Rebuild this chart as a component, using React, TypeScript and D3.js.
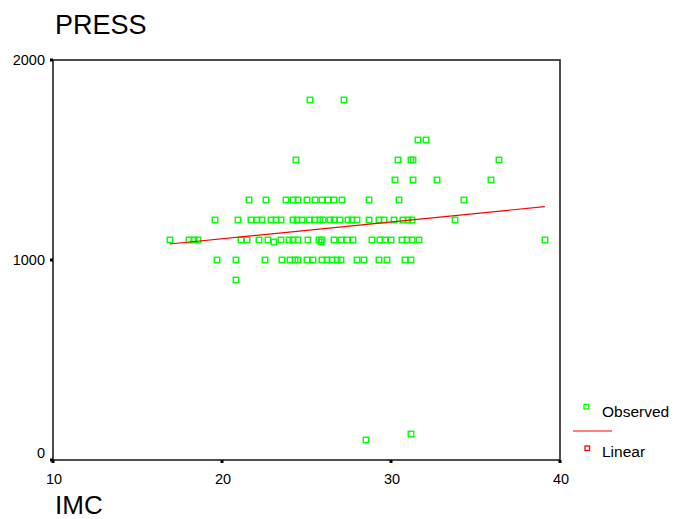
import React, { useRef, useEffect } from "react";
import * as d3 from "d3";

// IMC values of the observations, grouped by PRESS level
const press1800 = [25.2, 27.2];
const press1600 = [31.6, 32.1];
const press1500 = [24.4, 30.4, 31.2, 31.3, 36.4];
const press1400 = [30.25, 31.3, 32.7, 35.9];
const press1300 = [21.6, 22.6, 23.8, 24.2, 24.5, 25.0, 25.5, 25.9, 26.3, 26.6, 27.1, 28.7, 30.5, 34.3];
const press1200 = [
  19.6, 20.95, 21.7, 22.05, 22.35, 22.9, 23.2, 23.5, 24.2, 24.45, 24.75, 25.15, 25.5, 25.8,
  26.0, 26.4, 26.65, 27.0, 27.45, 27.7, 28.0, 28.7, 29.3, 29.6, 30.2, 30.7, 31.0, 31.25, 33.8,
];
const press1100 = [
  16.95, 18.05, 18.35, 18.6, 21.1, 21.5, 22.2, 22.75, 23.5, 23.95, 24.2, 24.5, 25.1, 25.75,
  25.9, 26.65, 27.05, 27.4, 27.75, 28.9, 29.35, 29.65, 30.0, 30.65, 30.95, 31.25, 31.65, 39.1,
];
const press1000 = [
  19.7, 20.85, 22.55, 23.55, 24.05, 24.3, 24.5, 25.05, 25.4, 25.9, 26.2, 26.5, 26.8, 27.05,
  28.0, 28.4, 29.3, 29.75, 30.85, 31.2,
];
const press900 = [20.8];
// [IMC, PRESS] points off the main levels
const scattered: [number, number][] = [
  [23.1, 1090],
  [25.85, 1090],
  [28.5, 100],
  [31.2, 130],
];

// fitted linear model [IMC, PRESS]
const linearFit: [number, number][] = [
  [16.9, 1080],
  [39.1, 1267],
];

const xTicks = [10, 20, 30, 40];
const yTicks = [0, 1000, 2000];

const FONT = "'Liberation Sans', Arial, sans-serif";

function App() {
  const svgRef = useRef<SVGSVGElement>(null);

  useEffect(() => {
    document.body.style.margin = "0";
    const svg = d3.select(svgRef.current);
    svg.selectAll("*").remove();

    const left = 53,
      right = 560,
      top = 60,
      bottom = 460;

    const x = d3.scaleLinear().domain([10, 40]).range([left, right]);
    const y = d3.scaleLinear().domain([0, 2000]).range([bottom, top]);

    const levels: [number, number[]][] = [
      [1800, press1800],
      [1600, press1600],
      [1500, press1500],
      [1400, press1400],
      [1300, press1300],
      [1200, press1200],
      [1100, press1100],
      [1000, press1000],
      [900, press900],
    ];
    const points: [number, number][] = [];
    levels.forEach(([p, arr]) => arr.forEach((v) => points.push([v, p])));
    scattered.forEach((d) => points.push(d));

    // titles
    svg
      .append("text")
      .attr("x", 55)
      .attr("y", 34)
      .attr("font-family", FONT)
      .attr("font-size", 27)
      .text("PRESS");

    svg
      .append("text")
      .attr("x", 55)
      .attr("y", 514)
      .attr("font-family", FONT)
      .attr("font-size", 26)
      .text("IMC");

    // observed points
    svg
      .append("g")
      .selectAll("rect")
      .data(points)
      .enter()
      .append("rect")
      .attr("x", (d) => Math.round(x(d[0])) - 2.75)
      .attr("y", (d) => Math.round(y(d[1])) - 2.75)
      .attr("width", 5.5)
      .attr("height", 5.5)
      .attr("fill", "none")
      .attr("stroke", "#00ff00")
      .attr("stroke-width", 1.4);

    // linear fit
    const line = d3
      .line<[number, number]>()
      .x((d) => x(d[0]))
      .y((d) => y(d[1]));
    svg
      .append("path")
      .attr("d", line(linearFit))
      .attr("fill", "none")
      .attr("stroke", "#ff0000")
      .attr("stroke-width", 1.2);

    // frame
    svg
      .append("rect")
      .attr("x", left)
      .attr("y", top)
      .attr("width", right - left)
      .attr("height", bottom - top)
      .attr("fill", "none")
      .attr("stroke", "#222")
      .attr("stroke-width", 1.6);

    // x ticks
    const xg = svg.append("g");
    xTicks.forEach((t) => {
      xg.append("rect")
        .attr("x", x(t) - 1.5)
        .attr("y", bottom)
        .attr("width", 3)
        .attr("height", 3)
        .attr("fill", "#000");
      xg.append("text")
        .attr("x", x(t) + 1)
        .attr("y", 484)
        .attr("text-anchor", "middle")
        .attr("font-family", FONT)
        .attr("font-size", 14.5)
        .text(t);
    });

    // y ticks
    const yg = svg.append("g");
    yTicks.forEach((t) => {
      yg.append("rect")
        .attr("x", left - 3)
        .attr("y", y(t) - 1.5)
        .attr("width", 3)
        .attr("height", 3)
        .attr("fill", "#000");
      yg.append("text")
        .attr("x", 45)
        .attr("y", y(t) + (t === 0 ? -2 : 5))
        .attr("text-anchor", "end")
        .attr("font-family", FONT)
        .attr("font-size", 14.5)
        .text(t);
    });

    // legend
    const lg = svg.append("g");
    lg.append("rect")
      .attr("x", 584)
      .attr("y", 404.5)
      .attr("width", 4.5)
      .attr("height", 4.5)
      .attr("fill", "none")
      .attr("stroke", "#00ff00")
      .attr("stroke-width", 1.3);
    lg.append("text")
      .attr("x", 602)
      .attr("y", 417)
      .attr("font-family", FONT)
      .attr("font-size", 15.5)
      .text("Observed");
    lg.append("line")
      .attr("x1", 573)
      .attr("x2", 612)
      .attr("y1", 431)
      .attr("y2", 431)
      .attr("stroke", "#ff0000")
      .attr("stroke-width", 1.2);
    lg.append("rect")
      .attr("x", 585)
      .attr("y", 446)
      .attr("width", 4.5)
      .attr("height", 4.5)
      .attr("fill", "none")
      .attr("stroke", "#ff0000")
      .attr("stroke-width", 1.3);
    lg.append("text")
      .attr("x", 602)
      .attr("y", 457)
      .attr("font-family", FONT)
      .attr("font-size", 15.5)
      .text("Linear");
  }, []);

  return <svg ref={svgRef} width={673} height={519} style={{ display: "block" }}></svg>;
}

export default App;
